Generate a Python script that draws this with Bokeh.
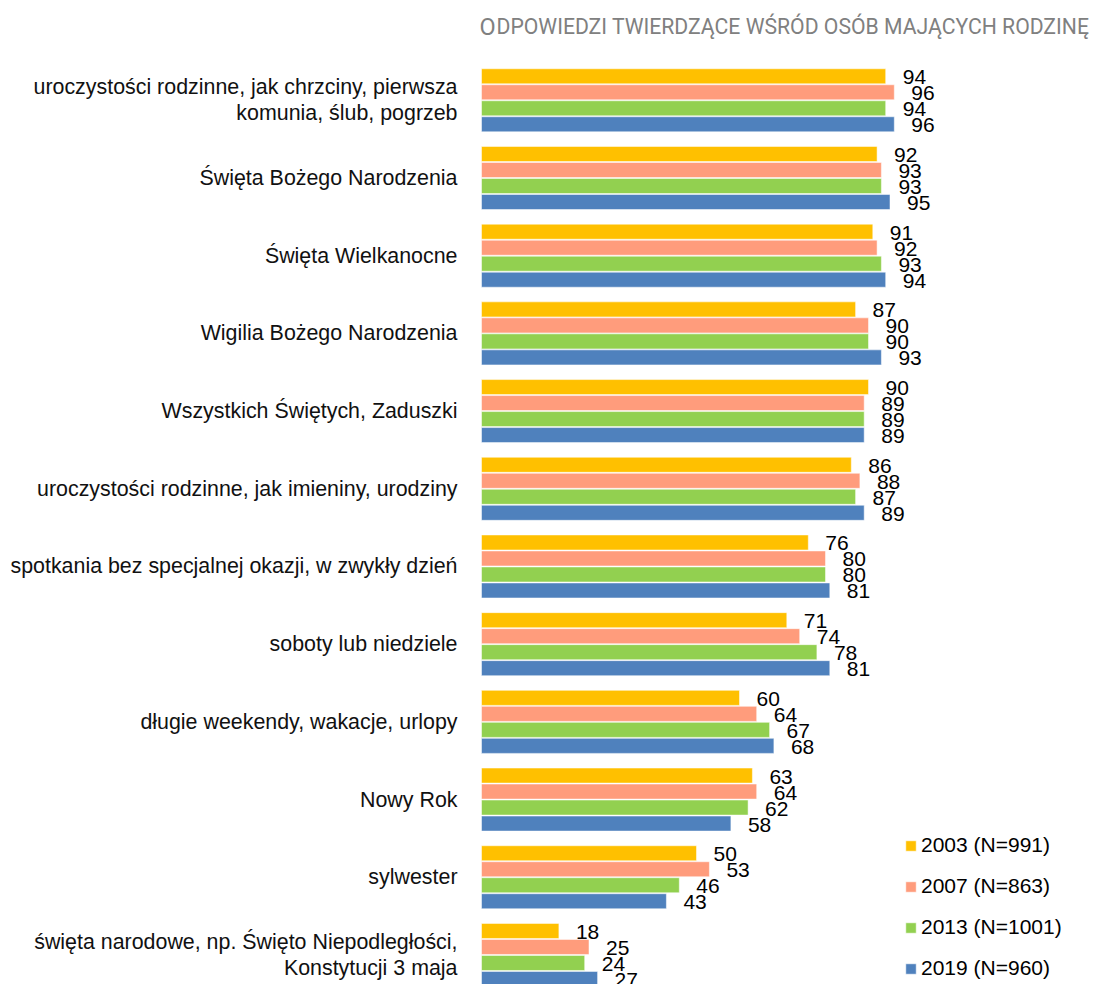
from bokeh.plotting import figure
from bokeh.models import Range1d, ColumnDataSource, Label, Legend, LegendItem
from bokeh.core.properties import value
from bokeh.embed import file_html
from bokeh.resources import INLINE

categories = [
    "uroczystości rodzinne, jak chrzciny, pierwsza\nkomunia, ślub, pogrzeb",
    "Święta Bożego Narodzenia",
    "Święta Wielkanocne",
    "Wigilia Bożego Narodzenia",
    "Wszystkich Świętych, Zaduszki",
    "uroczystości rodzinne, jak imieniny, urodziny",
    "spotkania bez specjalnej okazji, w zwykły dzień",
    "soboty lub niedziele",
    "długie weekendy, wakacje, urlopy",
    "Nowy Rok",
    "sylwester",
    "święta narodowe, np. Święto Niepodległości,\nKonstytucji 3 maja",
]
series = ["2003 (N=991)", "2007 (N=863)", "2013 (N=1001)", "2019 (N=960)"]
v2003 = [94, 92, 91, 87, 90, 86, 76, 71, 60, 63, 50, 18]
v2007 = [96, 93, 92, 90, 89, 88, 80, 74, 64, 64, 53, 25]
v2013 = [94, 93, 93, 90, 89, 87, 80, 78, 67, 62, 46, 24]
v2019 = [96, 95, 94, 93, 89, 89, 81, 81, 68, 58, 43, 27]
values = [v2003, v2007, v2013, v2019]
colors = ["#FFC000", "#FF9C7C", "#92D050", "#4F81BD"]
title_first = "O"
title_rest = "DPOWIEDZI TWIERDZĄCE WŚRÓD OSÓB MAJĄCYCH RODZINĘ"

W, H = 1099, 984
PX = 4.3          # pixels per percentage point
X0 = 481          # screen x of the zero line
SLOT = 16.0       # pixels per bar slot
GROUP = 4.856     # slots per category group
TOP = -75.8 / SLOT

p = figure(width=W, height=H,
           x_range=Range1d(-X0 / PX, (W - X0) / PX),
           y_range=Range1d(TOP + H / SLOT, TOP),
           output_backend="svg", toolbar_location=None, min_border=0,
           x_axis_location=None, y_axis_location=None)
p.grid.visible = False
p.outline_line_color = None
p.background_fill_color = "white"

FONT = value("Liberation Sans")
items = []
for j, (name, vals, col) in enumerate(zip(series, values, colors)):
    ys = [i * GROUP + j for i in range(len(categories))]
    src = ColumnDataSource(dict(y=ys, v=vals, lbl=[str(v) for v in vals]))
    r = p.hbar(y="y", right="v", left=0, height=0.94, source=src,
               fill_color=col, line_color="white", line_width=1, line_alpha=0.5)
    p.text(x="v", y="y", text="lbl", source=src, x_offset=17, y_offset=1,
           text_align="left", text_baseline="middle", text_font=FONT,
           text_font_size="21px", text_color="#000000")
    items.append(LegendItem(label=name, renderers=[r]))

csrc = ColumnDataSource(dict(y=[i * GROUP + 1.5 for i in range(len(categories))],
                             x=[-24 / PX] * len(categories), t=categories))
p.text(x="x", y="y", text="t", source=csrc, text_align="right",
       text_baseline="middle", text_font=FONT, text_font_size="21.4px",
       text_line_height=1.1, text_color="#111111")

p.add_layout(Label(x=479, y=H - 26, x_units="screen", y_units="screen",
                   text=title_first, text_font="Roboto", text_font_size="23.5px",
                   text_color="#808080", text_baseline="alphabetic"))
p.add_layout(Label(x=496, y=H - 26, x_units="screen", y_units="screen",
                   text=title_rest, text_font="Roboto", text_font_size="21.2px",
                   text_color="#808080", text_baseline="alphabetic"))

legend = Legend(items=items, location=(904, 4), glyph_width=13, glyph_height=13,
                label_height=20, spacing=17, label_standoff=4, padding=0, margin=0,
                border_line_color=None, background_fill_alpha=0,
                label_text_font="Liberation Sans", label_text_font_size="21px",
                label_text_color="#000000")
p.add_layout(legend)

open("out.html", "w").write(file_html(p, INLINE))
